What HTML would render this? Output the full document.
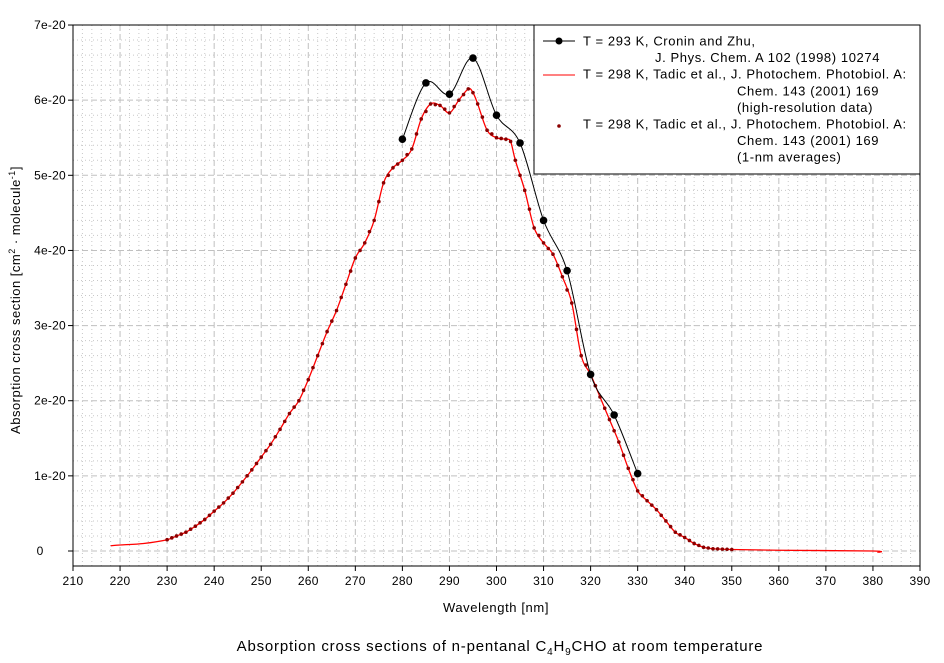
<!DOCTYPE html>
<html><head><meta charset="utf-8"><style>
body{margin:0;background:#fff;}
svg{display:block;font-family:"Liberation Sans",Arial,sans-serif;}
</style></head><body>
<svg id="s" width="944" height="663" xmlns="http://www.w3.org/2000/svg"></svg>
<script>
const s=document.getElementById('s');
const X=nm=>73+(nm-210)*(847/180);
const Y=v=>551-v*75.14;
let h='';
for(let nm=212;nm<390;nm+=2){if(nm%10)h+=`<line x1="${X(nm)}" y1="25" x2="${X(nm)}" y2="566" stroke="#c8c8c8" stroke-dasharray="1,3"/>`;}
for(let v=-0.2;v<7;v+=0.2){let r=Math.round(v*10);if(r%10)h+=`<line x1="73" y1="${Y(v)}" x2="920" y2="${Y(v)}" stroke="#c8c8c8" stroke-dasharray="1,3"/>`;}
for(let nm=220;nm<390;nm+=10)h+=`<line x1="${X(nm)}" y1="25" x2="${X(nm)}" y2="566" stroke="#c0c0c0" stroke-dasharray="6,3"/>`;
for(let v=0;v<7;v++)h+=`<line x1="73" y1="${Y(v)}" x2="920" y2="${Y(v)}" stroke="#c0c0c0" stroke-dasharray="6,3"/>`;
h+=`<rect x="73" y="25" width="847" height="541" fill="none" stroke="#000"/>`;
for(let nm=210;nm<=390;nm+=10){h+=`<line x1="${X(nm)}" y1="566" x2="${X(nm)}" y2="571" stroke="#000"/><text x="${X(nm)}" y="585" font-size="12" letter-spacing="0.3" text-anchor="middle">${nm}</text>`;}
for(let v=0;v<=7;v++){h+=`<line x1="68" y1="${Y(v)}" x2="73" y2="${Y(v)}" stroke="#000"/><text x="${v?50:40}" y="${Y(v)+4}" font-size="12" letter-spacing="0.2" text-anchor="middle">${v?v+'e-20':'0'}</text>`;}
h+=`<text x="496" y="612" font-size="13" letter-spacing="0.6" text-anchor="middle">Wavelength [nm]</text>`;
h+=`<text transform="translate(20,300) rotate(-90)" font-size="13" letter-spacing="0.5" text-anchor="middle">Absorption cross section [cm<tspan dy="-5" font-size="9">2</tspan><tspan dy="5"> · molecule</tspan><tspan dy="-5" font-size="9">-1</tspan><tspan dy="5">]</tspan></text>`;
h+=`<text x="500" y="651" font-size="15" letter-spacing="0.8" text-anchor="middle">Absorption cross sections of n-pentanal C<tspan dy="4" font-size="10">4</tspan><tspan dy="-4">H</tspan><tspan dy="4" font-size="10">9</tspan><tspan dy="-4">CHO at room temperature</tspan></text>`;
const R=[[218,.07],[220,.08],[225,.1],[230,.15],[232,.2],[234,.25],[236,.33],[238,.42],[240,.53],[242,.64],[244,.77],[246,.92],[248,1.08],[250,1.25],[252,1.42],[254,1.62],[256,1.83],[258,2.0],[260,2.28],[262,2.6],[264,2.92],[266,3.2],[268,3.55],[270,3.9],[272,4.1],[274,4.4],[276,4.9],[278,5.1],[280,5.2],[282,5.35],[284,5.75],[286,5.95],[288,5.93],[290,5.83],[292,6.0],[294,6.15],[295,6.1],[296,5.95],[298,5.6],[300,5.5],[302,5.48],[303,5.45],[304,5.2],[306,4.8],[308,4.3],[310,4.1],[312,3.95],[314,3.65],[316,3.3],[318,2.6],[320,2.35],[322,2.05],[324,1.75],[326,1.45],[328,1.1],[330,0.8],[332,0.67],[334,0.55],[336,0.4],[338,0.25],[340,0.18],[342,0.1],[344,0.05],[346,0.03],[350,0.02],[360,0.01],[380,0],[381,-0.02]];
function interp(a,x){for(let i=0;i<a.length-1;i++){if(x>=a[i][0]&&x<=a[i+1][0]){let t=(x-a[i][0])/(a[i+1][0]-a[i][0]);return a[i][1]+t*(a[i+1][1]-a[i][1]);}}return 0;}
function spline(a){let d=`M${X(a[0][0])},${Y(a[0][1])}`;for(let i=0;i<a.length-1;i++){const p0=a[Math.max(0,i-1)],p1=a[i],p2=a[i+1],p3=a[Math.min(a.length-1,i+2)];
const x0=X(p0[0]),y0=Y(p0[1]),x1=X(p1[0]),y1=Y(p1[1]),x2=X(p2[0]),y2=Y(p2[1]),x3=X(p3[0]),y3=Y(p3[1]);
d+=` C${x1+(x2-x0)/6},${y1+(y2-y0)/6} ${x2-(x3-x1)/6},${y2-(y3-y1)/6} ${x2},${y2}`;}return d;}
h+=`<path d="${spline(R)}" fill="none" stroke="#f00" stroke-width="1.3"/>`;
for(let nm=230;nm<=350;nm++){h+=`<circle cx="${X(nm)}" cy="${Y(interp(R,nm))}" r="1.8" fill="#8b0000"/>`;}
const B=[[280,5.48],[285,6.23],[290,6.08],[295,6.56],[300,5.80],[305,5.43],[310,4.40],[315,3.73],[320,2.35],[325,1.81],[330,1.03]];
h+=`<path d="${spline(B)}" fill="none" stroke="#000" stroke-width="1"/>`;
B.forEach(p=>h+=`<circle cx="${X(p[0])}" cy="${Y(p[1])}" r="3.8" fill="#000"/>`);
h+=`<rect x="534" y="25" width="386" height="149" fill="#fff" stroke="#000"/>`;
h+=`<line x1="543" y1="41" x2="575" y2="41" stroke="#000"/><circle cx="559" cy="41" r="3.5"/>`;
h+=`<line x1="543" y1="75" x2="575" y2="75" stroke="#f00"/><circle cx="559" cy="126" r="1.8" fill="#8b0000"/>`;
const L=[[583,'T = 293 K, Cronin and Zhu,'],[655,'J. Phys. Chem. A 102 (1998) 10274'],[583,'T = 298 K, Tadic et al., J. Photochem. Photobiol. A:'],[737,'Chem. 143 (2001) 169'],[737,'(high-resolution data)'],[583,'T = 298 K, Tadic et al., J. Photochem. Photobiol. A:'],[737,'Chem. 143 (2001) 169'],[737,'(1-nm averages)']];
L.forEach((l,i)=>h+=`<text x="${l[0]}" y="${45.5+i*16.6}" font-size="13" letter-spacing="0.6">${l[1]}</text>`);
s.innerHTML=h;
</script>
</body></html>
